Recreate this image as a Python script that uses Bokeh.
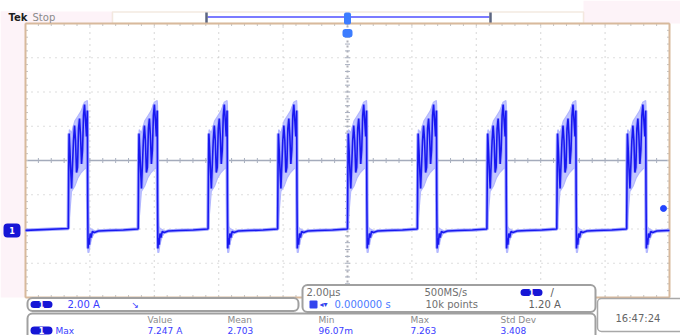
import numpy as np
from bokeh.plotting import figure
from bokeh.models import Range1d, BoxAnnotation, Label
from bokeh.embed import file_html
from bokeh.resources import INLINE

TIME_PER_DIV_US = 2.0
AMPS_PER_DIV = 2.0
H_DIVS = 10
V_DIVS = 8
CENTER_CURRENT_A = 4.0          # graticule centre (ground marker 2 div below)
TRIGGER_LEVEL_A = 1.20

# rising edge of every pulse (µs)
PULSE_START_US = [-8.67, -6.50, -4.33, -2.17, 0.00, 2.17, 4.33, 6.50, 8.67]

# one period of the dark trace, offsets from the rising edge
PULSE_T_US = [0.000, 0.012, 0.025, 0.050, 0.078, 0.102, 0.130, 0.161, 0.193, 0.224,
              0.255, 0.286, 0.317, 0.348, 0.379, 0.410, 0.441, 0.472, 0.503, 0.534,
              0.565, 0.590, 0.602, 0.612, 0.630, 0.652, 0.677, 0.708, 0.745, 0.807,
              0.932, 1.242, 1.708, 2.158]
PULSE_I_A = [0.03, 3.42, 5.58, 4.58, 3.30, 2.36, 3.71, 5.17, 6.04, 5.17,
             3.30, 3.60, 5.87, 6.45, 5.46, 3.80, 4.60, 6.63, 7.27, 6.34,
             5.40, 6.92, 1.66, -1.14, -0.55, -0.91, -0.26, -0.50, -0.15, -0.20,
             -0.12, -0.09, -0.06, 0.00]

# intensity-graded (light) envelope around each pulse
ENV_T_US = [0.000, 0.009, 0.031, 0.100, 0.200, 0.300, 0.400, 0.500, 0.590,
            0.600, 0.610, 0.640, 0.683, 0.745, 0.807]
ENV_HI_A = [0.03, 4.60, 5.80, 5.60, 6.30, 6.60, 6.90, 7.40, 7.50,
            7.20, 1.50, 0.15, 0.03, -0.03, -0.09]
ENV_LO_A = [0.03, 0.15, 0.60, 2.20, 2.50, 3.00, 3.30, 3.50, 3.60,
            -1.00, -1.37, -1.37, -0.79, -0.44, -0.26]

TRACE_START_A = -0.08
TRACE_END_A = -0.09

CH_SCALE_TEXT = "2.00 A"
TIMEBASE_TEXT = "2.00µs"
SAMPLE_RATE_TEXT = "500MS/s"
POSITION_TEXT = "0.000000 s"
RECORD_TEXT = "10k points"
TRIG_TEXT = "1.20 A"
CLOCK_TEXT = "16:47:24"
MEAS_NAME = "Max"
MEAS_HEADERS = ["Value", "Mean", "Min", "Max", "Std Dev"]
MEAS_VALUES = ["7.247 A", "2.703", "96.07m", "7.263", "3.408"]

# ---------------- layout (screen pixel geometry of the reference) ----------------
W, H = 680, 335
PX_US = 32.2          # pixels per µs
PX_A = 17.125         # pixels per A
CX, CY = 347, 160     # pixel of graticule centre


def X(px):
    return (px - CX) / PX_US


def Y(py):
    return CENTER_CURRENT_A + (CY - py) / PX_A


FONT = "DejaVu Sans"
TAN = "#d8b99c"
BLUE_TXT = "#3a3cff"
GRAY_TXT = "#808080"

t_lo = -H_DIVS / 2 * TIME_PER_DIV_US
t_hi = H_DIVS / 2 * TIME_PER_DIV_US
a_lo = CENTER_CURRENT_A - V_DIVS / 2 * AMPS_PER_DIV
a_hi = CENTER_CURRENT_A + V_DIVS / 2 * AMPS_PER_DIV

p = figure(width=W, height=H, x_range=Range1d(X(0), X(W)), y_range=Range1d(Y(H), Y(0)),
           output_backend="svg", toolbar_location=None, x_axis_type=None, y_axis_type=None,
           min_border=0, outline_line_color=None, background_fill_color="white",
           border_fill_color="white")

# pale pink screen margins
for l, r, t, b in [(0, 25, 11, 297), (0, 112, 11, 23), (583, 690, 0, 23)]:
    p.add_layout(BoxAnnotation(left=X(l), right=X(r), top=Y(t), bottom=Y(b), fill_color="#fdf3f8",
                               fill_alpha=1, line_color=None, level="underlay"))

# record view bar
p.add_layout(BoxAnnotation(left=X(112), right=X(583), top=Y(11.5), bottom=Y(23), fill_color="white",
                           fill_alpha=1, line_color=TAN, line_width=1.5, level="underlay"))
p.segment(x0=[X(207)], y0=[Y(16.5)], x1=[X(489)], y1=[Y(16.5)], line_color="#7b7bff", line_width=2)
p.segment(x0=[X(206), X(490)], y0=[Y(12), Y(12)], x1=[X(206), X(490)], y1=[Y(23), Y(23)],
          line_color="#5c6680", line_width=2.5)

# graticule: division dots
xdiv = np.arange(t_lo, t_hi + 1e-9, TIME_PER_DIV_US)
ydiv = np.arange(a_lo, a_hi + 1e-9, AMPS_PER_DIV)
vx = [v for v in xdiv[1:-1] if abs(v) > 1e-9]
hy = [v for v in ydiv[1:-1] if abs(v - CENTER_CURRENT_A) > 1e-9]
p.segment(x0=vx, y0=[a_lo] * len(vx), x1=vx, y1=[a_hi] * len(vx), line_color="#bcbcbc",
          line_width=1.2, line_dash="1 5")
p.segment(x0=[t_lo] * len(hy), y0=hy, x1=[t_hi] * len(hy), y1=hy, line_color="#bcbcbc",
          line_width=1.2, line_dash="1 5")

# centre cross with minor ticks
p.segment(x0=[t_lo], y0=[CENTER_CURRENT_A], x1=[t_hi], y1=[CENTER_CURRENT_A], line_color="#a4abbb",
          line_width=1.5)
p.segment(x0=[0], y0=[a_lo], x1=[0], y1=[a_hi], line_color="#b0b0b8", line_width=2, line_dash="2 3")
mx = np.arange(t_lo, t_hi + 1e-9, TIME_PER_DIV_US / 5)
my = np.arange(a_lo, a_hi + 1e-9, AMPS_PER_DIV / 5)
tk_a = 2.5 / PX_A
tk_t = 2.5 / PX_US
p.segment(x0=mx, y0=CENTER_CURRENT_A - tk_a, x1=mx, y1=CENTER_CURRENT_A + tk_a, line_color="#a9b0bf",
          line_width=1)
p.segment(x0=-tk_t, y0=my, x1=tk_t, y1=my, line_color="#a9b0bf", line_width=1)
# border minor ticks
p.segment(x0=mx, y0=a_hi, x1=mx, y1=a_hi - tk_a, line_color="#c4c4c4", line_width=1)
p.segment(x0=mx, y0=a_lo, x1=mx, y1=a_lo + tk_a, line_color="#c4c4c4", line_width=1)
p.segment(x0=t_lo, y0=my, x1=t_lo + tk_t, y1=my, line_color="#c4c4c4", line_width=1)
p.segment(x0=t_hi, y0=my, x1=t_hi - tk_t, y1=my, line_color="#c4c4c4", line_width=1)

# graticule border
p.segment(x0=[t_lo, t_hi, t_lo, t_lo], y0=[a_lo, a_lo, a_hi, a_lo],
          x1=[t_lo, t_hi, t_hi, t_hi], y1=[a_hi, a_hi, a_hi, a_lo],
          line_color=TAN, line_width=2)

# ---------------- waveform ----------------
env_xs, env_ys = [], []
for s in PULSE_START_US:
    ex = [s + d for d in ENV_T_US]
    env_xs.append(ex + ex[::-1])
    env_ys.append(list(ENV_HI_A) + list(ENV_LO_A)[::-1])
p.patches(xs=env_xs, ys=env_ys, fill_color="#c2c6ff", line_color="#b3b8ff", line_width=1.2)

tt, ii = [t_lo], [TRACE_START_A]
for s in PULSE_START_US:
    for d, a in zip(PULSE_T_US, PULSE_I_A):
        if s + d < t_hi:
            tt.append(s + d)
            ii.append(a)
tt.append(t_hi)
ii.append(TRACE_END_A)
p.line(tt, ii, line_color="#a3a8ff", line_width=3.5)
p.line(tt, ii, line_color="#1818f0", line_width=1.6)

# trigger level marker
p.scatter(x=[X(663)], y=[TRIGGER_LEVEL_A], size=6, color="#2244ff")


def box(l, r, t, b, fill="white", line="#a0a0a0", lw=2, rad=5, level="annotation"):
    p.add_layout(BoxAnnotation(left=X(l), right=X(r), top=Y(t), bottom=Y(b), fill_color=fill,
                               fill_alpha=1, line_color=line, line_alpha=1, line_width=lw,
                               border_radius=rad, level=level))


def txt(px, py, s, color=GRAY_TXT, size="10px", align="left", style="normal"):
    p.add_layout(Label(x=X(px), y=Y(py), text=s, text_color=color, text_font=FONT,
                       text_font_size=size, text_align=align, text_baseline="middle",
                       text_font_style=style))


def pill(l, r, t, b):
    box(l, r, t, b, fill="#1616d6", line=None, lw=0, rad=4)
    txt((l + r) / 2, (t + b) / 2 + 0.3, "1", color="white", size="8px", align="center", style="bold")


# trigger position markers
box(343.5, 350.5, 12, 24, fill="#3d7dff", line=None, lw=0, rad=2)
box(342, 352, 28.5, 37, fill="#3d7dff", line=None, lw=0, rad=3)
# ground marker
pill(3, 20, 223, 237)

# header
txt(8, 17, "Tek", color="#1e1e1e", style="bold")
txt(32, 17, "Stop", color="#8a8a8a")

# channel box
box(27, 298, 297.5, 310.5)
pill(30, 52, 300.5, 307.5)
txt(67, 304, CH_SCALE_TEXT, color=BLUE_TXT)
txt(131, 304, "↘", color=BLUE_TXT, size="9px")

# timebase box
box(302, 595, 284.5, 311.5)
txt(306, 292, TIMEBASE_TEXT, color="#707070")
txt(424, 292, SAMPLE_RATE_TEXT, color="#707070")
pill(520, 542, 288.5, 295.5)
txt(550, 292, "/", color="#555555")
box(309, 317, 300, 308, fill="#3344ee", line=None, lw=0, rad=1)
txt(319, 304, "◂▾", color="#3344ee", size="8px")
txt(334, 304, POSITION_TEXT, color="#4a7aff")
txt(425, 304, RECORD_TEXT, color="#707070")
txt(528, 304, TRIG_TEXT, color="#606060")

# clock box
box(597, 690, 298, 331, line="#a8a8a8", lw=1.5, rad=4)
txt(615, 318, CLOCK_TEXT, color="#666666")

# measurement box
box(27, 595, 313, 350)
HEAD_X = [147, 227, 318, 410, 500]
for hx, h in zip(HEAD_X, MEAS_HEADERS):
    txt(hx, 319, h, color="#8a8a8a", size="9px")
pill(30, 52, 326, 334)
txt(55, 330, MEAS_NAME, color=BLUE_TXT, size="9px")
for hx, v in zip(HEAD_X, MEAS_VALUES):
    txt(hx, 330, v, color=BLUE_TXT, size="9px")

open("out.html", "w").write(file_html(p, INLINE))
